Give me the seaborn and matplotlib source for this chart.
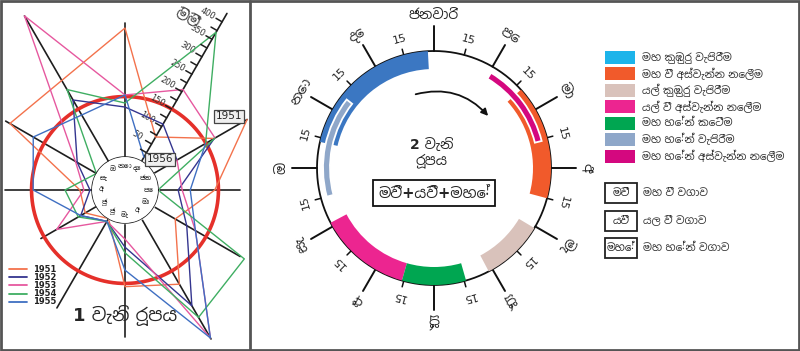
import numpy as np
import pandas as pd
import matplotlib
matplotlib.use("Agg")
import matplotlib.pyplot as plt
import seaborn as sns
from matplotlib import font_manager, ft2font
from matplotlib.patches import Rectangle, FancyArrowPatch
from matplotlib.transforms import Bbox

# ---------------- data : left panel (monthly rainfall, mm) ----------------
years = ["1951", "1952", "1953", "1954", "1955"]
month_abbr = ["ජන", "පෙ", "මා", "අ", "මැ", "ජූ", "ජූ", "අ", "සැ", "ඔ", "නො", "දෙ"]
rain_1951 = [268, 141, 62, 188, 158, 0, 32, 30, 248, 232, 320, 70]
rain_1952 = [174, 50, 95, 250, 60, 8, 45, 5, 55, 176, 124, 107]
rain_1953 = [67, 60, 120, 342, 40, 8, 114, 20, 60, 417, 154, 206]
rain_1954 = [176, 0, 260, 283, 74, 8, 52, 67, 0, 206, 134, 370]
rain_1955 = [149, 80, 120, 342, 117, 8, 45, 146, 181, 133, 154, 12]
year_colors = ["#f3724c", "#34358f", "#e6589f", "#3fae62", "#3f6fc2"]
scale_labels = [50, 100, 150, 200, 250, 300, 350, 400]
mean_rain = 150

# ---------------- data : right panel (crop calendar) ----------------
month_names = ["ජනවාරි", "පෙ", "මා", "අ", "මැ", "ජූ", "ජූ", "අ", "සැ", "ඔ", "නො", "දෙ"]
mid_label = "15"
activities = ["මහ කුඹුරු වැපිරීම", "මහ වී අස්වැන්න නෙලීම", "යල් කුඹුරු වැපිරීම",
              "යල් වී අස්වැන්න නෙලීම", "මහ හේන් කෙටීම", "මහ හේන් වැපිරීම",
              "මහ හේන් අස්වැන්න නෙලීම"]
legend_colors = ["#1db4ea", "#f15a2b", "#d9c2bb", "#ec2590", "#00a651", "#8fa7c9", "#d4087f"]
arc_colors = ["#3b77c2", "#f15a2b", "#d9c2bb", "#ec2590", "#00a651", "#8fa7c9", "#d4087f"]
arc_start = [9.43, 1.60, 4.03, 6.53, 5.47, 8.50, 1.03]   # months from 1 Jan
arc_end = [11.90, 3.50, 5.07, 8.07, 6.53, 10.27, 2.53]
arc_thin = [False, False, False, False, False, True, True]
crop_abbr = ["මවී", "යවී", "මහේ"]
crop_desc = ["මහ වී වගාව", "යල වී වගාව", "මහ හේන් වගාව"]
center_title = "2 වැනි\nරූපය"
center_formula = "මවී+යවී+මහේ"
left_title = "1 වැනි රූපය"


def family_with(ch):
    cp = ord(ch)
    seen = set()
    found = []
    for f in font_manager.fontManager.ttflist:
        if f.fname in seen:
            continue
        seen.add(f.fname)
        try:
            if cp in ft2font.FT2Font(f.fname).get_charmap():
                found.append(f.name)
        except Exception:
            pass
    if not found:
        return None
    sans = [n for n in found if "Sans" in n and "UI" not in n]
    return (sans or found)[0]


# ---------------- figure ----------------
sns.set_theme(style="white")
fams = ["DejaVu Sans"]
sin_fam = family_with("අ")
if sin_fam:
    fams = ["DejaVu Sans", sin_fam]
plt.rcParams["font.family"] = fams
W, H = 800, 351
fig = plt.figure(figsize=(W / 100, H / 100), dpi=100)
fig.patch.set_facecolor("white")

# ===== left polar panel =====
px_per = 0.403
r0_px = 33.0
rorigin = -r0_px / px_per
rmax = 440
R = (rmax - rorigin) * px_per
cx, cy = 125, H - 190
axL = fig.add_axes([(cx - R) / W, (cy - R) / H, 2 * R / W, 2 * R / H], projection="polar")
axL.set_ylim(0, rmax)
axL.set_rorigin(rorigin)
axL.axis("off")

month_theta = np.deg2rad(30 - 30 * np.arange(12))
series = [rain_1951, rain_1952, rain_1953, rain_1954, rain_1955]
rows = []
for i, (yr, vals) in enumerate(zip(years, series)):
    pts = list(vals)
    th = list(month_theta)
    if i + 1 < len(series):
        pts.append(series[i + 1][0])
        th.append(month_theta[0])
    for k, (t, v) in enumerate(zip(th, pts)):
        rows.append({"year": yr, "order": k, "theta": t, "rain": v})
df = pd.DataFrame(rows)

# spokes (style lengths in mm units)
spoke_len = [268, 203, 248, 345, 283, 256, 159, 216, 260, 417, 332, 424]
for t, L in zip(month_theta, spoke_len):
    axL.plot([t, t], [0, L], color="#1e1e1e", lw=1.2, zorder=2)

full = np.linspace(0, 2 * np.pi, 400)
axL.plot(full, np.full_like(full, mean_rain), color="#e5302a", lw=2.6, zorder=3)

sns.lineplot(data=df, x="theta", y="rain", hue="year", palette=year_colors,
             sort=False, estimator=None, units="year", legend=False, lw=1.0,
             ax=axL, zorder=4)
axL.axis("off")

# inner hub
axL.fill_between(full, rorigin, 0, color="white", zorder=5)
axL.plot(full, np.zeros_like(full), color="#1e1e1e", lw=1.1, zorder=6)
for t, lab in zip(month_theta, month_abbr):
    axL.text(t, -22, lab, ha="center", va="center", fontsize=5, fontweight="bold", zorder=7)

# scale axis ticks (60 degree spoke)
t60 = np.deg2rad(60)
perp = np.array([np.cos(np.deg2rad(150)), np.sin(np.deg2rad(150))])
for v in range(25, 425, 25):
    axL.annotate("", xy=(t60, v), xytext=tuple(perp * 7), textcoords="offset pixels",
                 arrowprops=dict(arrowstyle="-", lw=1.1, color="#1e1e1e", shrinkA=0, shrinkB=0),
                 zorder=6)
for v in scale_labels:
    axL.annotate(str(v), xy=(t60, v), xytext=tuple(perp * 17), textcoords="offset pixels",
                 ha="center", va="center", rotation=-30, fontsize=6, color="#333333")
axL.annotate("මිමී", xy=(t60, 424), xytext=(-40, -5), textcoords="offset pixels",
             ha="center", va="center", rotation=-30, fontsize=11, fontweight="bold", color="#444444")
axL.annotate(years[0], xy=(month_theta[0], rain_1951[0]), xytext=(-18, 3), textcoords="offset pixels",
             ha="center", va="center", fontsize=7.5,
             bbox=dict(boxstyle="square,pad=0.15", fc="#efefef", ec="#444444", lw=0.9), zorder=8)
axL.annotate("1956", xy=(t60, rain_1955[-1]), xytext=(16, -2), textcoords="offset pixels",
             ha="center", va="center", fontsize=7.5,
             bbox=dict(boxstyle="square,pad=0.15", fc="#efefef", ec="#444444", lw=0.9), zorder=8)

clip = Bbox.from_extents(2, 2, 249, H - 2)
for ln in axL.lines:
    ln.set_clip_box(clip)

# ===== right polar panel =====
Rr = 170
rcx, rcy = 434, H - 168
axR = fig.add_axes([(rcx - Rr) / W, (rcy - Rr) / H, 2 * Rr / W, 2 * Rr / H], projection="polar")
axR.set_theta_zero_location("N")
axR.set_theta_direction(-1)
axR.set_ylim(0, Rr)
axR.axis("off")
ring = 117
axR.plot(full, np.full_like(full, ring), color="#111111", lw=1.3, zorder=2)
for s, e, c, thin in zip(arc_start, arc_end, arc_colors, arc_thin):
    t0, t1 = np.deg2rad(s * 30), np.deg2rad(e * 30)
    if thin:
        axR.bar((t0 + t1) / 2, 7, width=t1 - t0, bottom=104, color=c, edgecolor="white",
                lw=1.3, zorder=4)
    else:
        axR.bar((t0 + t1) / 2, 18, width=t1 - t0, bottom=99, color=c, edgecolor="none", zorder=3)
for m in range(12):
    t = np.deg2rad(m * 30)
    axR.plot([t, t], [ring, ring + 25], color="#111111", lw=1.4, zorder=2, clip_on=False)
    axR.text(t, ring + 36, month_names[m], ha="center", va="center", rotation=-m * 30,
             rotation_mode="anchor", fontsize=10, fontweight="bold")
    tm = np.deg2rad(m * 30 + 15)
    axR.plot([tm, tm], [ring, ring + 6], color="#111111", lw=1.1, zorder=2, clip_on=False)
    axR.text(tm, ring + 16, mid_label, ha="center", va="center", rotation=-(m * 30 + 15),
             rotation_mode="anchor", fontsize=8)

# ===== overlay (text, legends, frame) =====
ov = fig.add_axes([0, 0, 1, 1], zorder=10)
ov.set_xlim(0, W)
ov.set_ylim(H, 0)
ov.axis("off")
ov.patch.set_alpha(0)

ov.add_patch(Rectangle((1, 1), W - 2, H - 2, fill=False, ec="#555555", lw=2))
ov.plot([250, 250], [1, H - 1], color="#555555", lw=2)

# left legend
for i, (yr, c) in enumerate(zip(years, year_colors)):
    y = 269 + 8.2 * i
    ov.plot([9, 27], [y, y], color=c, lw=1.3)
    ov.text(33, y, yr, ha="left", va="center", fontsize=6, fontweight="bold", color="#222222")
ov.text(125, 315, left_title, ha="center", va="center", fontsize=13, fontweight="bold")

# right center
ov.text(432, 153, center_title, ha="center", va="center", fontsize=10, fontweight="bold",
        linespacing=1.1)
ov.text(434, 193, center_formula, ha="center", va="center", fontsize=10.5, fontweight="bold",
        bbox=dict(boxstyle="square,pad=0.35", fc="white", ec="#111111", lw=1.3))
ov.add_patch(FancyArrowPatch((413, 95), (490, 118), connectionstyle="arc3,rad=-0.32",
                             arrowstyle="-|>", mutation_scale=10, lw=1.3, color="#111111"))

# activity legend
for i, (lab, c) in enumerate(zip(activities, legend_colors)):
    y = 57 + 16.5 * i
    ov.add_patch(Rectangle((605, y - 6.5), 30, 13, color=c, ec="none"))
    ov.text(642, y, lab, ha="left", va="center", fontsize=7.6, color="#333333")

for i, (ab, desc) in enumerate(zip(crop_abbr, crop_desc)):
    y = 193 + 27.5 * i
    ov.add_patch(Rectangle((605, y - 10), 32, 20, fill=False, ec="#222222", lw=1.3))
    ov.text(621, y, ab, ha="center", va="center", fontsize=7.5, fontweight="bold")
    ov.text(643, y, desc, ha="left", va="center", fontsize=7.6, color="#333333")

fig.savefig("out.png", dpi=100, facecolor="white")
